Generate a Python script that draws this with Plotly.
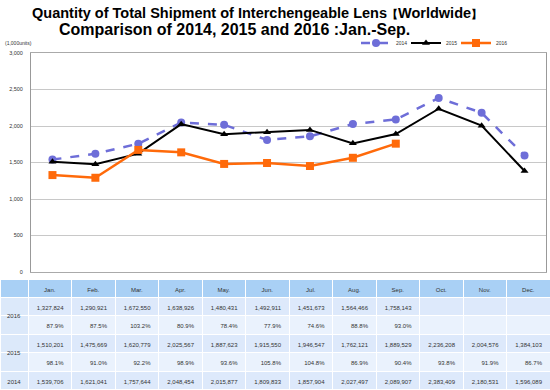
import plotly.graph_objects as go

months = ["Jan.", "Feb.", "Mar.", "Apr.", "May.", "Jun.", "Jul.", "Aug.", "Sep.", "Oct.", "Nov.", "Dec."]
ship_2014 = [1539706, 1621041, 1757644, 2048454, 2015877, 1809833, 1857904, 2027497, 2089907, 2383409, 2180531, 1596089]
ship_2015 = [1510201, 1475669, 1620779, 2025567, 1887623, 1915550, 1946547, 1762121, 1889529, 2236208, 2004576, 1384103]
ship_2016 = [1327824, 1290921, 1672550, 1638926, 1480431, 1492911, 1451673, 1564466, 1758143]
pct_2015 = [98.1, 91.0, 92.2, 98.9, 93.6, 105.8, 104.8, 86.9, 90.4, 93.8, 91.9, 86.7]
pct_2016 = [87.9, 87.5, 103.2, 80.9, 78.4, 77.9, 74.6, 88.8, 93.0]
y_ticks = [0, 500, 1000, 1500, 2000, 2500, 3000]

W, H = 550, 390
def py(p):
    return 1 - p / H

fig = go.Figure()
fig.add_trace(go.Scatter(x=months, y=[v / 1000 for v in ship_2014], name="2014", mode="lines+markers",
                         line=dict(color="#6e6ed8", width=2.5, dash="dash"), legend="legend",
                         marker=dict(symbol="circle", size=8, color="#6e6ed8")))
fig.add_trace(go.Scatter(x=months, y=[v / 1000 for v in ship_2015], name="2015", mode="lines+markers",
                         line=dict(color="#000000", width=2), legend="legend2",
                         marker=dict(symbol="triangle-up", size=7, color="#000000")))
fig.add_trace(go.Scatter(x=months[:len(ship_2016)], y=[v / 1000 for v in ship_2016], name="2016", mode="lines+markers",
                         line=dict(color="#ff6a0a", width=2.5), legend="legend3",
                         marker=dict(symbol="square", size=8, color="#ff6a0a")))

def fmt(v):
    return f"{v:,}"

rows_labels = ["", "", "", "", "2014"]
cols = [rows_labels]
fills = [["#dce9fa"] * 5]
for i in range(12):
    c = [
        fmt(ship_2016[i]) if i < len(ship_2016) else "",
        f"{pct_2016[i]:.1f}%" if i < len(pct_2016) else "",
        fmt(ship_2015[i]),
        f"{pct_2015[i]:.1f}%",
        fmt(ship_2014[i]),
    ]
    cols.append(c)
    fills.append(["#dde9fb", "#eaf2fd", "#dde9fb", "#eaf2fd", "#dde9fb"])

fig.add_trace(go.Table(
    domain=dict(x=[0, 1], y=[0, py(279)]),
    columnwidth=[28] + [43.5] * 12,
    header=dict(values=[""] + months, fill_color="#a9d0f5", line=dict(color="white", width=1),
                align="center", height=18, font=dict(size=6, color="#333333", family="Arial")),
    cells=dict(values=cols, fill_color=fills, line=dict(color="white", width=1),
               align=["center"] + ["right"] * 12, height=18.5,
               font=dict(size=6, color="#333333", family="Arial")),
))

def leg(xpx):
    return dict(orientation="h", x=xpx / W, y=py(43), yanchor="middle", xanchor="left",
                font=dict(size=5), itemwidth=30, bgcolor="rgba(0,0,0,0)")

fig.update_layout(
    width=W, height=H,
    margin=dict(l=0, r=0, t=0, b=0, autoexpand=False),
    paper_bgcolor="white", plot_bgcolor="white",
    font=dict(family="Arial", color="#333333"),
    showlegend=True,
    legend=leg(356), legend2=leg(406), legend3=leg(456),
    xaxis=dict(domain=[31 / W, 546 / W], showticklabels=False, ticks="", showgrid=False,
               showline=True, linecolor="#aaaaaa", mirror=True, zeroline=False,
               range=[-0.5, 11.5]),
    yaxis=dict(domain=[py(272), py(53)], range=[0, 3000], tickvals=y_ticks,
               tickformat=",d", showgrid=True, gridcolor="#c8c8c8", gridwidth=1,
               showline=True, linecolor="#999999", mirror=True, zeroline=False,
               tickfont=dict(size=5.5, color="#333333"), ticklabelstandoff=6),
)

br = '<span style="font-size:11px">{}</span>'
fig.add_annotation(text="<b>Quantity of Total Shipment of Interchengeable Lens" + br.format("【") +
                        "Worldwide" + br.format("】") + "</b>",
                   x=257 / W, y=py(13), xref="paper", yref="paper", showarrow=False,
                   font=dict(size=14.5, color="#000000", family="Arial"), xanchor="center", yanchor="middle")
fig.add_annotation(text="<b>Comparison of 2014, 2015 and 2016 :Jan.-Sep.</b>",
                   x=234 / W, y=py(30), xref="paper", yref="paper", showarrow=False,
                   font=dict(size=16, color="#000000", family="Arial"), xanchor="center", yanchor="middle")
fig.add_annotation(text="(1,000units)", x=3 / W, y=py(43), xref="paper", yref="paper", showarrow=False,
                   font=dict(size=5, color="#333333"), xanchor="left", yanchor="middle")
for lab, yc in [("2016", 316), ("2015", 353)]:
    fig.add_annotation(text=lab, x=14 / W, y=py(yc), xref="paper", yref="paper", showarrow=False,
                       font=dict(size=6, color="#333333", family="Arial"), xanchor="center", yanchor="middle")

fig.write_html("out.html", config={"displayModeBar": False},
               post_script="document.body.style.margin='0px';document.body.style.overflow='hidden';")
